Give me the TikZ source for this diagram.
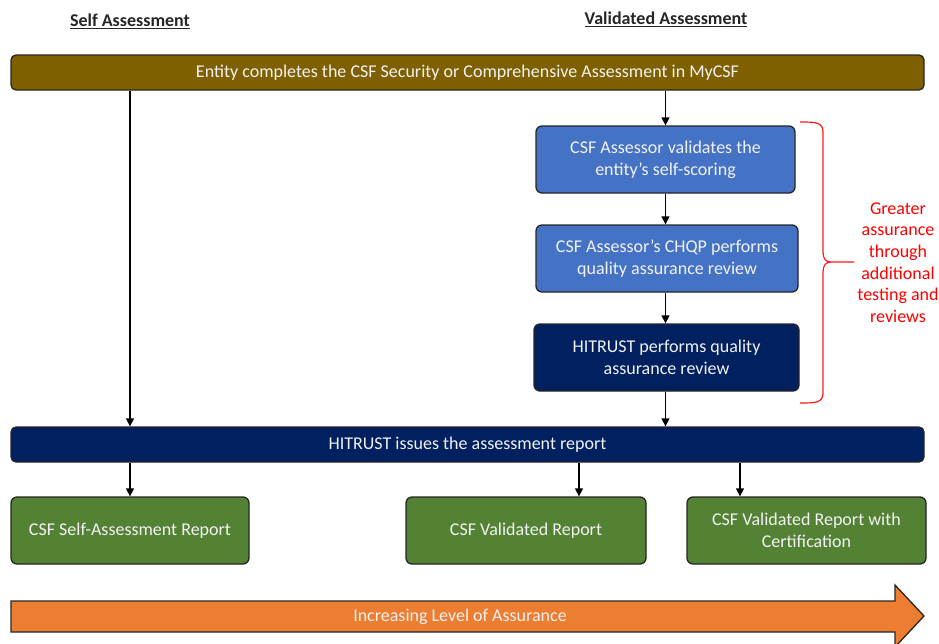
\documentclass[tikz,border=0pt]{standalone}
\usepackage{fontspec}
\setmainfont{Carlito}
\usetikzlibrary{arrows.meta}
\definecolor{brownbar}{HTML}{7F6000}
\definecolor{midblue}{HTML}{4472C4}
\definecolor{navy}{HTML}{002060}
\definecolor{grn}{HTML}{548235}
\definecolor{orng}{HTML}{ED7D31}
\definecolor{edge}{HTML}{262626}
\definecolor{txt}{HTML}{F2F2F2}
\tikzset{
  box/.style={draw=edge, line width=1.3pt, rounded corners=6pt, text=txt,
    font=\fontsize{18}{22}\selectfont, align=center, inner sep=0pt},
  bar/.style={box, rounded corners=5pt, minimum width=913pt, minimum height=35pt},
  stepbox/.style={box, minimum height=67pt},
  arr/.style={line width=1.3pt, draw=black, -{Triangle[length=8pt,width=8pt]}},
  head/.style={font=\fontsize{18}{20}\selectfont\bfseries, text=black!85},
}
\begin{document}
\begin{tikzpicture}[x=1pt,y=-1pt]
\useasboundingbox (0,0) rectangle (939,643);
\node[head] (hs) at (130,21) {\underline{Self Assessment}};
\node[head] (hv) at (666,19) {\underline{Validated Assessment}};
\node[bar, fill=brownbar] (top) at (467.5,72.5) {Entity completes the CSF Security or Comprehensive Assessment in MyCSF};
\node[stepbox, fill=midblue, minimum width=259pt] (b1) at (665.5,159.5) {CSF Assessor validates the\\entity's self-scoring};
\node[stepbox, fill=midblue, minimum width=262pt] (b2) at (667,258.5) {CSF Assessor's CHQP performs\\quality assurance review};
\node[stepbox, fill=navy, minimum width=265pt] (b3) at (666.5,357.5) {HITRUST performs quality\\assurance review};
\node[bar, fill=navy] (hit) at (467.5,444.5) {HITRUST issues the assessment report};
\node[stepbox, fill=grn, minimum width=238pt] (g1) at (130,530.5) {CSF Self-Assessment Report};
\node[stepbox, fill=grn, minimum width=240pt] (g2) at (526,530.5) {CSF Validated Report};
\node[stepbox, fill=grn, minimum width=239pt] (g3) at (806.5,530.5) {CSF Validated Report with\\Certification};
\coordinate (c2) at (579,0);
\coordinate (c3) at (740,0);
\draw[arr] (top.south -| g1.north) -- (hit.north -| g1.north);
\draw[arr] (top.south -| b1.north) -- (b1.north);
\draw[arr] (b1.south) -- (b2.north -| b1.south);
\draw[arr] (b2.south -| b1.south) -- (b3.north -| b1.south);
\draw[arr] (b3.south -| b1.south) -- (hit.north -| b1.south);
\draw[arr] (hit.south -| g1.north) -- (g1.north);
\draw[arr] (hit.south -| c2) -- (g2.north -| c2);
\draw[arr] (hit.south -| c3) -- (g3.north -| c3);
% brace
\coordinate (bt) at (800,122);
\coordinate (bm) at (854,262);
\coordinate (bb) at (800,403);
\draw[red!90!white, line width=1.2pt] (bt) .. controls (815,122) and (823,122) .. (823,132)
  -- (823,252) .. controls (823,259) and (826,262) .. (831,262) -- (bm)
  (831,262) .. controls (826,262) and (823,265) .. (823,272)
  -- (823,393) .. controls (823,403) and (815,403) .. (bb);
\node[font=\fontsize{18}{21.7}\selectfont, text=red, align=center] (gr) at (898,262.5)
  {Greater\\assurance\\through\\additional\\testing and\\reviews};
% big arrow
\draw[draw=edge, line width=1.3pt, fill=orng] (11,601) -- (895,601) -- (895,585) -- (924,616)
  -- (895,647) -- (895,632) -- (11,632) -- cycle;
\node[text=txt, font=\fontsize{18}{20}\selectfont] (inc) at (460,617) {Increasing Level of Assurance};
\end{tikzpicture}
\end{document}
